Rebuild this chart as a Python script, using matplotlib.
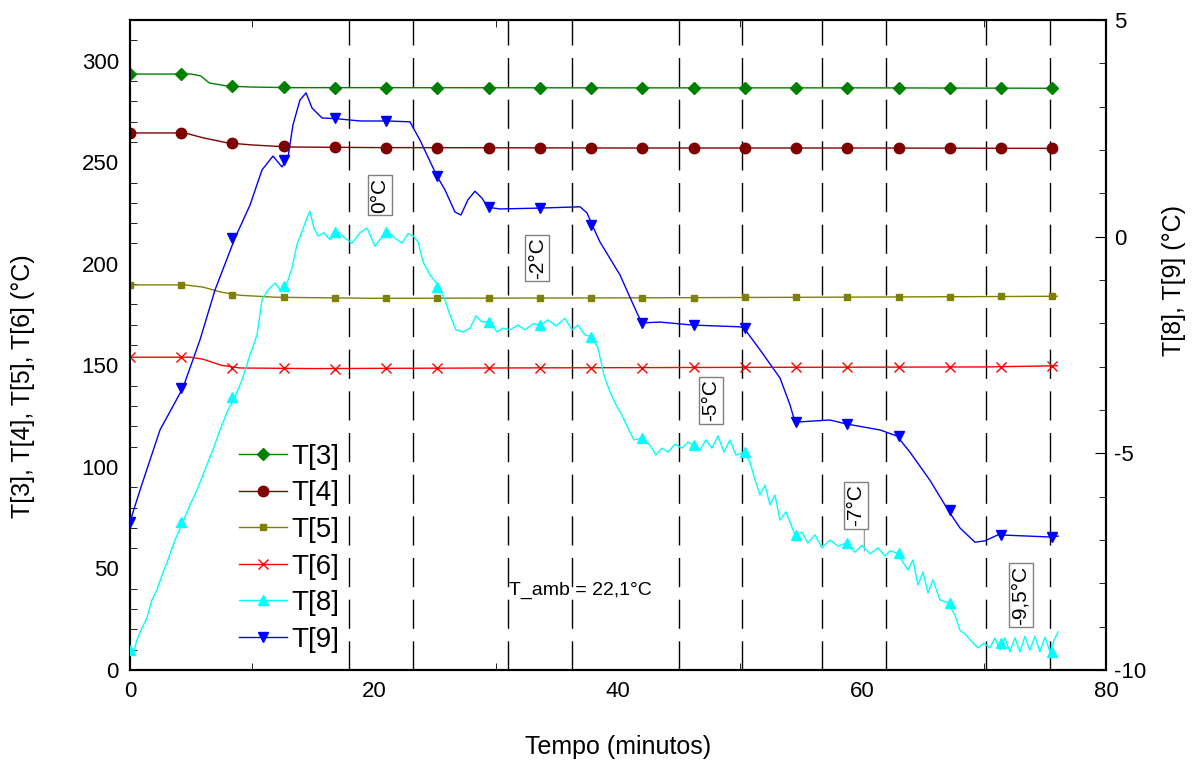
import numpy as np
import matplotlib.pyplot as plt
from matplotlib.lines import Line2D
from matplotlib.ticker import MultipleLocator

plt.rcParams['font.family'] = ['Liberation Sans', 'DejaVu Sans']
plt.rcParams['axes.unicode_minus'] = False

# marker times (minutes)
mk_t = [i * 4.2 for i in range(19)]

# left axis series
t3_t = [0, 5.0, 5.8, 6.5, 8, 10, 13, 20, 40, 60, 76]
t3_v = [293.4, 293.4, 292.5, 289, 287.5, 287, 286.7, 286.7, 286.6, 286.6, 286.4]
t3_mk = [293.4, 293.4, 287.5, 286.8, 286.7, 286.7, 286.6, 286.6, 286.6, 286.6,
         286.6, 286.6, 286.6, 286.5, 286.6, 286.5, 286.5, 286.5, 286.4]

t4_t = [0, 4.5, 6, 8, 10, 13, 20, 40, 60, 76]
t4_v = [264.4, 264.4, 262, 259.5, 258.5, 257.5, 257.2, 257, 257, 256.8]
t4_mk = [264.4, 264.4, 259.3, 258.0, 257.4, 257.2, 257.1, 257.0, 257.0, 257.0,
         257.0, 257.0, 257.0, 257.0, 257.2, 257.0, 257.0, 257.0, 256.9]

t5_t = [0, 4.5, 6, 7.5, 9, 12, 20, 40, 60, 76]
t5_v = [189.6, 189.6, 188.5, 186, 184.5, 183.5, 183, 183.2, 183.6, 184]
t5_mk = [189.6, 189.6, 184.6, 183.8, 183.2, 183.0, 183.0, 183.1, 183.2, 183.2,
         183.2, 183.3, 183.4, 183.5, 183.6, 183.7, 183.8, 183.9, 184.0]

t6_t = [0, 5, 6, 7.5, 9, 15, 30, 50, 70, 76]
t6_v = [154, 154, 153, 150, 148.7, 148.4, 148.7, 149, 149.2, 149.8]
t6_mk = [154, 154, 148.7, 148.5, 148.4, 148.5, 148.6, 148.7, 148.8, 148.8,
         148.9, 149.0, 149.0, 149.0, 149.1, 149.2, 149.2, 149.3, 149.7]

# right axis series
t8_t = [0, 0.25, 0.57, 0.98, 1.39, 1.8, 2.21, 2.62, 3.11, 3.69, 4.34, 4.92, 5.49,
        6.15, 6.8, 7.38, 8.03, 8.61, 9.18, 9.84, 10.41, 10.82, 11.31, 11.89, 12.3,
        12.79, 13.28, 13.69, 14.1, 14.51, 14.75, 15.08, 15.41, 15.9, 16.39, 17.05,
        17.62, 18.2, 18.85, 19.43, 20.08, 20.66, 21.15, 21.72, 22.3, 22.79, 23.2,
        23.61, 24.02, 24.59, 25.16, 25.82, 26.23, 26.72, 27.3, 27.87, 28.36, 28.85,
        29.51, 30.08, 30.57, 31.15, 31.8, 32.38, 33.03, 33.61, 34.26, 34.92, 35.66,
        36.23, 36.72, 37.3, 37.87, 38.36, 38.85, 39.34, 39.84, 40.33, 40.82, 41.31,
        41.97, 42.62, 43.11, 43.61, 44.1, 44.67, 45.25, 45.74, 46.15, 46.72, 47.21,
        47.7, 48.2, 48.69, 49.18, 49.67, 50.33, 50.82, 51.23, 51.64, 52.05, 52.46,
        52.87, 53.28, 53.77, 54.51, 55.08, 55.57, 56.15, 56.72, 57.38, 58.03, 58.69,
        59.43, 60.0, 60.66, 61.31, 61.89, 62.3, 62.87, 63.36, 63.77, 64.18, 64.59,
        65.0, 65.41, 65.82, 66.39, 67.05, 67.62, 68.03, 68.52, 69.02, 69.51, 70.0,
        70.49, 70.9, 71.31, 71.72, 72.13, 72.54, 72.95, 73.36, 73.77, 74.18, 74.59,
        75.0, 75.41, 75.74, 76.07]
t8_v = [-9.54, -9.65, -9.31, -9.03, -8.80, -8.38, -8.15, -7.81, -7.46, -7.0, -6.58,
        -6.19, -5.85, -5.38, -4.92, -4.46, -4.0, -3.70, -3.31, -2.73, -2.27, -1.46,
        -1.23, -1.07, -1.23, -1.14, -0.72, -0.18, 0.12, 0.43, 0.59, 0.20, 0.02, 0.09,
        -0.07, 0.11, -0.03, -0.15, 0.09, 0.20, -0.22, 0.0, 0.11, -0.03, -0.15, 0.07,
        0.02, -0.12, -0.58, -0.88, -1.09, -1.46, -1.81, -2.15, -2.20, -2.11, -1.83,
        -1.97, -1.95, -2.20, -2.11, -2.15, -2.04, -2.15, -2.01, -2.04, -1.92, -2.06,
        -1.88, -2.15, -2.04, -2.27, -2.31, -2.57, -3.19, -3.58, -3.88, -4.12, -4.42,
        -4.69, -4.65, -4.81, -5.04, -4.88, -4.97, -4.79, -4.88, -4.74, -4.81, -4.92,
        -4.69, -4.88, -4.60, -4.97, -4.69, -5.04, -4.97, -5.20, -5.61, -5.96, -5.73,
        -6.19, -5.96, -6.54, -6.35, -6.88, -6.82, -7.07, -6.88, -7.18, -7.0, -7.14,
        -7.07, -7.28, -7.12, -7.32, -7.18, -7.37, -7.25, -7.30, -7.51, -7.69, -7.46,
        -8.04, -7.74, -8.22, -7.92, -8.38, -8.45, -8.73, -9.08, -9.19, -9.35, -9.49,
        -9.38, -9.49, -9.26, -9.54, -9.26, -9.58, -9.26, -9.58, -9.22, -9.54, -9.22,
        -9.58, -9.24, -9.58, -9.31, -9.12]
t8_mk = [-9.54, -6.58, -3.70, -1.14, 0.11, 0.11, -1.16, -1.97, -2.04, -2.31,
         -4.65, -4.81, -4.97, -6.88, -7.07, -7.30, -8.45, -9.38, -9.58]

t9_t = [0, 0.82, 2.46, 4.34, 5.74, 6.97, 8.61, 9.84, 10.82, 11.72, 12.46, 12.95,
        13.36, 13.93, 14.43, 14.92, 15.74, 17.05, 18.85, 21.15, 22.95, 23.77, 25.16,
        25.82, 26.64, 27.13, 27.7, 28.28, 28.85, 29.34, 30.33, 33.61, 36.89, 37.46,
        37.87, 38.52, 40.16, 41.56, 41.97, 43.44, 46.15, 50.0, 50.33, 51.64, 53.28,
        54.1, 54.51, 57.38, 58.69, 61.48, 62.87, 63.93, 65.57, 66.8, 67.05, 68.03,
        69.26, 70.08, 71.15, 75.41, 76.07]
t9_v = [-6.58, -5.85, -4.46, -3.49, -2.38, -1.23, -0.03, 0.73, 1.54, 1.86, 1.61,
        1.82, 2.58, 3.15, 3.32, 2.97, 2.74, 2.72, 2.67, 2.67, 2.65, 2.23, 1.40, 1.08,
        0.57, 0.50, 0.85, 1.05, 0.89, 0.68, 0.64, 0.66, 0.69, 0.55, 0.28, -0.12,
        -0.88, -1.76, -1.99, -1.97, -2.04, -2.08, -2.11, -2.61, -3.26, -3.88, -4.28,
        -4.23, -4.32, -4.46, -4.60, -4.97, -5.62, -6.19, -6.31, -6.72, -7.05, -7.02,
        -6.88, -6.93, -6.91]
t9_mk = [-6.58, -3.49, -0.03, 1.77, 2.74, 2.67, 1.40, 0.68, 0.66, 0.27,
         -1.99, -2.04, -2.11, -4.28, -4.32, -4.60, -6.31, -6.88, -6.93]

# reference test temperatures (vertical dashed lines)
vlines = [17.95, 23.2, 31.0, 36.2, 45.0, 50.2, 56.7, 62.0, 70.2, 75.4]
labels_txt = ['0°C', '-2°C', '-5°C', '-7°C', '-9,5°C']
labels_x = [20.5, 33.4, 47.6, 59.5, 73.0]
labels_y = [233.8, 202.8, 132.9, 81.2, 36.9]

fig = plt.figure(figsize=(11.99, 7.64), dpi=100)
ax = fig.add_axes([0.1084, 0.1230, 0.8140, 0.8508])
ax2 = ax.twinx()

left_series = [
    ('T[3]', t3_t, t3_v, t3_mk, '#008000', 'D', 6),
    ('T[4]', t4_t, t4_v, t4_mk, '#800000', 'o', 7.5),
    ('T[5]', t5_t, t5_v, t5_mk, '#808000', 's', 5),
    ('T[6]', t6_t, t6_v, t6_mk, '#ff0000', 'x', 7.5),
]
right_series = [
    ('T[8]', t8_t, t8_v, t8_mk, '#00ffff', '^', 7.5),
    ('T[9]', t9_t, t9_v, t9_mk, '#0000ff', 'v', 7.5),
]

handles = []
for name, tt, vv, mk, c, m, ms in left_series:
    ax.plot(tt, vv, color=c, lw=1, zorder=3)
    ax.plot(mk_t, mk, ls='none', marker=m, ms=ms, color=c, mew=1, zorder=4)
    handles.append(Line2D([], [], color=c, lw=1, marker=m, ms=ms, mew=1, label=name))
for name, tt, vv, mk, c, m, ms in right_series:
    ax2.plot(tt, vv, color=c, lw=1, zorder=3)
    ax2.plot(mk_t, mk, ls='none', marker=m, ms=ms, color=c, zorder=4)
    handles.append(Line2D([], [], color=c, lw=1, marker=m, ms=ms, label=name))

for xv in vlines:
    ax.axvline(xv, color='black', lw=1, dashes=(21, 9), zorder=1)

for s, xv, yv in zip(labels_txt, labels_x, labels_y):
    ax.text(xv, yv, s, rotation=90, ha='center', va='center', fontsize=15, zorder=6,
            bbox=dict(boxstyle='square,pad=0.12', fc='white', ec='#808080', lw=1))
# small leader line under the -7°C label
ax.annotate('', xy=(60.2, 58.6), xytext=(60.2, 70.5),
            arrowprops=dict(arrowstyle='-', color='#a0a0a0', lw=1, shrinkA=0, shrinkB=0))

ax.text(36.9, 39.4, 'T_amb = 22,1°C', ha='center', va='center', fontsize=14)

ax.set_xlim(0, 80)
ax.set_ylim(0, 320)
ax2.set_ylim(-10, 5)

ax.set_xticks([0, 20, 40, 60, 80])
ax.xaxis.set_minor_locator(MultipleLocator(10))
ax.set_yticks([0, 50, 100, 150, 200, 250, 300])
ax.yaxis.set_minor_locator(MultipleLocator(10))
ax2.set_yticks([-10, -5, 0, 5])
ax2.yaxis.set_minor_locator(MultipleLocator(1))

ax.tick_params(axis='both', which='major', length=0, labelsize=16, pad=8)
ax.tick_params(axis='x', which='minor', direction='in', length=5, top=True, bottom=True)
ax.tick_params(axis='y', which='minor', direction='in', length=5)
ax2.tick_params(axis='y', which='major', direction='in', length=8, labelsize=16, pad=6)
ax2.tick_params(axis='y', which='minor', direction='in', length=5)

for a in (ax, ax2):
    for sp in a.spines.values():
        sp.set_linewidth(1.5)

ax.set_xlabel('Tempo (minutos)', fontsize=18, labelpad=24)
ax.set_ylabel('T[3], T[4], T[5], T[6] (°C)', fontsize=18)
ax.yaxis.set_label_coords(-0.0973, 0.437)
ax2.set_ylabel('T[8], T[9] (°C)', fontsize=18)
ax2.yaxis.set_label_coords(1.0574, 0.60)

ax.legend(handles=handles, loc='upper left', bbox_to_anchor=(0.10, 0.365), frameon=False,
          fontsize=20, handlelength=1.75, handletextpad=0.15, labelspacing=0.38,
          borderaxespad=0)

fig.savefig('out.png', dpi=100)
